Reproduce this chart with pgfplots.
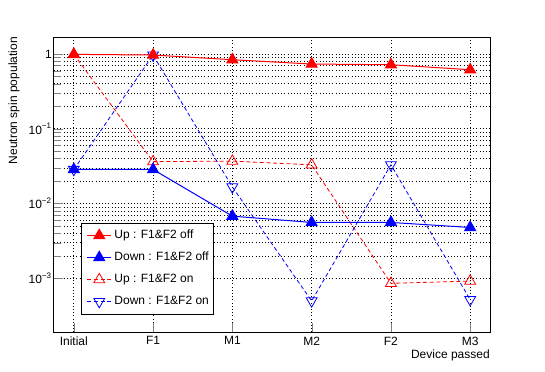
\documentclass[border=0pt]{standalone}
\usepackage{fontspec}
\setmainfont{Liberation Sans}
\usepackage{pgfplots}
\pgfplotsset{compat=1.18}
\begin{document}
\begin{tikzpicture}
\path[use as bounding box] (-40.5pt,-29.25pt) rectangle (368.25pt,249pt);
\begin{axis}[
  at={(0,0)}, anchor=south west,
  width=327pt, height=221.25pt, scale only axis,
  ymode=log,
  xmin=-0.25, xmax=5.25, ymin=1.92e-4, ymax=1.69,
  xtick={0,1,2,3,4,5},
  xticklabels={Initial,F1,M1,M2,F2,M3},
  ytick={0.001,0.01,0.1,1},
  yticklabels={10\textsuperscript{−3},10\textsuperscript{−2},10\textsuperscript{−1},1},
  tick align=inside, xtick pos=bottom, ytick pos=left,
  major tick length=7pt, minor tick length=5.5pt,
  grid=both,
  major grid style={black, dotted, line width=0.5pt},
  minor grid style={black, dotted, line width=0.5pt},
  axis line style={black, line width=0.75pt},
  ticklabel style={font=\fontsize{9}{10}\selectfont},
  yticklabel style={inner sep=1.5pt},
  xlabel={Device passed},
  ylabel={Neutron spin population},
  label style={font=\fontsize{9}{10}\selectfont, inner sep=0pt},
  xlabel style={at={(axis description cs:1,-0.06)}, anchor=north east},
  ylabel style={at={(axis description cs:-0.078,1)}, anchor=south east},
  legend style={at={(axis description cs:0.062,0.37)}, anchor=north west,
    draw=black, line width=0.6pt, inner sep=1pt,
    font=\fontsize{9}{10}\selectfont, cells={anchor=west},
    nodes={minimum height=16.5pt, inner sep=2pt}},
  legend cell align=left,
  legend image code/.code={%
    \path (0pt,0pt);
    \draw[mark repeat=2,mark phase=2] plot coordinates {(3pt,0pt) (12pt,0pt) (21pt,0pt)};},
]
% "on" series drawn first (underneath)
\addplot[red, line width=0.6pt, dash pattern=on 3pt off 2pt, mark=triangle, mark size=4.7pt, mark options={solid}, forget plot]
  coordinates {(0,0.99) (1,0.0364) (2,0.037) (3,0.033) (4,0.00086) (5,0.00092)};
\addplot[blue, line width=0.6pt, dash pattern=on 3pt off 2pt, mark=triangle, mark size=4.7pt, mark options={solid, rotate=180}, forget plot]
  coordinates {(0,0.0286) (1,0.97) (2,0.0167) (3,0.0005) (4,0.033) (5,0.00052)};
\addplot[red, line width=0.75pt, mark=triangle*, mark size=4.7pt, mark options={solid}]
  coordinates {(0,0.99) (1,0.97) (2,0.84) (3,0.735) (4,0.72) (5,0.617)};
\addlegendentry{Up : F1\&F2 off}
\addplot[blue, line width=0.75pt, mark=triangle*, mark size=4.7pt, mark options={solid}]
  coordinates {(0,0.0286) (1,0.0286) (2,0.0068) (3,0.0056) (4,0.0056) (5,0.0048)};
\addlegendentry{Down : F1\&F2 off}
\addlegendimage{red, line width=0.6pt, dash pattern=on 3pt off 2pt, mark=triangle, mark size=4.7pt, mark options={solid}}
\addlegendentry{Up : F1\&F2 on}
\addlegendimage{blue, line width=0.6pt, dash pattern=on 3pt off 2pt, mark=triangle, mark size=4.7pt, mark options={solid, rotate=180}}
\addlegendentry{Down : F1\&F2 on}
\end{axis}
\end{tikzpicture}
\end{document}
